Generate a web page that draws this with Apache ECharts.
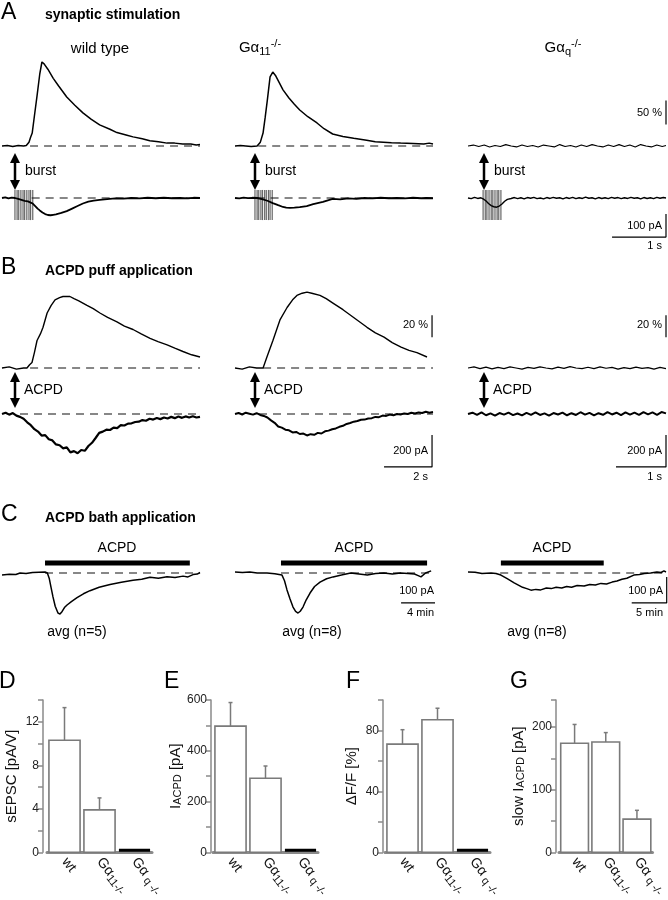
<!DOCTYPE html>
<html><head><meta charset="utf-8">
<script src="https://cdn.jsdelivr.net/npm/echarts@6/dist/echarts.min.js"></script>
<style>html,body{margin:0;padding:0;background:#fff}#c{width:668px;height:900px}</style>
</head><body><div id="c"></div>
<script>
// ================= DATA =================
// Panel A: synaptic stimulation (time s; Ca signal % dF/F; current pA)
const caA_wt = [[0,0],[0.1,1],[0.2,-1],[0.3,1],[0.4,0],[0.45,1],[0.5,8],[0.53,18],[0.56,27],[0.6,62],[0.65,105],[0.7,150],[0.74,175],[0.78,171],[0.85,160],[0.95,141],[1.05,125],[1.2,102],[1.35,85],[1.5,69],[1.65,56],[1.81,44],[2.0,35],[2.13,28],[2.3,23],[2.43,19],[2.6,15],[2.74,11],[2.9,9],[3.06,6],[3.2,6],[3.35,4],[3.5,4],[3.6,2],[3.67,3]];
const caA_g11 = [[0,0],[0.1,1],[0.2,0],[0.3,-1],[0.41,0],[0.47,8],[0.52,27],[0.56,60],[0.6,96],[0.65,144],[0.7,154],[0.75,147],[0.82,132],[0.89,117],[1.0,100],[1.1,87],[1.2,75],[1.35,61],[1.52,48],[1.65,36],[1.81,25],[2.0,20],[2.2,16],[2.44,12],[2.6,9],[2.75,8],[2.9,7],[3.07,6],[3.3,5],[3.5,4],[3.6,6],[3.67,4]];
const caA_gq = [[0,0],[0.1,2],[0.2,-1],[0.3,2],[0.4,-2],[0.5,1],[0.6,-1],[0.7,3],[0.8,0],[0.9,-2],[1.0,2],[1.1,-1],[1.2,1],[1.3,-2],[1.4,2],[1.5,0],[1.6,-2],[1.7,3],[1.8,-1],[1.9,1],[2.0,-2],[2.1,2],[2.2,-1],[2.3,3],[2.4,0],[2.5,-2],[2.6,2],[2.7,-1],[2.8,3],[2.9,-1],[3.0,2],[3.1,-2],[3.2,3],[3.3,0],[3.4,-2],[3.5,2],[3.6,-1],[3.67,1]];
const curA_wt = [[0,0],[0.06,3],[0.12,-2],[0.18,2],[0.24,0],[0.3,-4],[0.36,-8],[0.42,-12],[0.48,-15],[0.53,-20],[0.57,-24],[0.62,-36],[0.66,-46],[0.7,-54],[0.75,-63],[0.8,-70],[0.85,-74],[0.9,-75],[0.95,-73],[1.0,-71],[1.1,-65],[1.2,-57],[1.3,-46],[1.4,-35],[1.5,-24],[1.6,-16],[1.7,-11],[1.81,-8],[1.95,-5],[2.1,-2],[2.25,-3],[2.4,0],[2.55,-2],[2.7,1],[2.85,-1],[3.0,1],[3.15,-1],[3.3,0],[3.45,-2],[3.55,1],[3.67,0]];
const curA_g11 = [[0,0],[0.08,-2],[0.16,2],[0.24,-1],[0.32,1],[0.41,0],[0.5,-5],[0.6,-12],[0.7,-22],[0.8,-31],[0.89,-39],[0.95,-42],[1.02,-43],[1.1,-42],[1.2,-40],[1.33,-35],[1.45,-27],[1.55,-21],[1.63,-17],[1.72,-10],[1.81,-4],[1.95,-6],[2.1,-2],[2.25,-4],[2.4,0],[2.55,-2],[2.7,1],[2.85,-1],[3.0,0],[3.15,-2],[3.3,1],[3.45,-1],[3.55,0],[3.67,-1]];
const curA_gq = [[0,0],[0.06,-3],[0.12,3],[0.18,-2],[0.24,1],[0.28,-4],[0.33,-12],[0.38,-24],[0.43,-33],[0.48,-38],[0.53,-40],[0.58,-35],[0.63,-26],[0.68,-14],[0.73,-6],[0.8,-2],[0.86,2],[0.92,-3],[0.98,1],[1.04,-4],[1.1,2],[1.16,-1],[1.22,3],[1.28,-3],[1.34,0],[1.4,-4],[1.46,2],[1.52,-2],[1.58,3],[1.64,-1],[1.7,1],[1.76,-4],[1.82,2],[1.88,-2],[1.94,3],[2.0,-3],[2.06,1],[2.12,-2],[2.18,4],[2.24,-1],[2.3,1],[2.36,-4],[2.42,2],[2.48,-2],[2.54,1],[2.6,-3],[2.66,3],[2.72,-1],[2.78,2],[2.84,-3],[2.9,1],[2.96,-2],[3.02,3],[3.08,-1],[3.14,1],[3.2,-4],[3.26,2],[3.32,-2],[3.38,1],[3.44,-3],[3.5,3],[3.56,-1],[3.62,2],[3.67,0]];
const stimA_wt = [0.24,0.28,0.31,0.35,0.39,0.42,0.46,0.5,0.53,0.57];
const stimA_g11 = [0.37,0.41,0.44,0.48,0.51,0.55,0.58,0.62,0.65,0.69];
const stimA_gq = [0.28,0.32,0.35,0.39,0.43,0.46,0.5,0.54,0.57,0.61];

// Panel B: ACPD puff application (time s; % ; pA)
const caB_wt = [[0,0],[0.3,1],[0.6,-1],[0.9,0],[1.04,0],[1.15,3],[1.25,5],[1.35,14],[1.46,25],[1.6,31],[1.71,37],[1.88,50],[2.05,57],[2.21,62],[2.4,64],[2.54,65],[2.7,65],[2.83,65],[3.0,63],[3.2,61],[3.54,57],[3.8,54],[4.08,50],[4.4,46],[4.79,42],[5.1,38],[5.46,35],[5.8,31],[6.17,27],[6.5,24],[6.88,21],[7.2,18],[7.54,15],[7.9,12],[8.25,10]];
const caB_g11 = [[0,0],[0.3,-1],[0.6,1],[0.9,0],[1.17,0],[1.33,10],[1.58,25],[1.88,44],[2.17,55],[2.4,62],[2.58,66],[2.8,68],[3.0,69],[3.2,68],[3.54,66],[3.8,63],[4.08,59],[4.5,53],[5.0,45],[5.5,37],[5.85,32],[6.21,28],[6.55,23],[6.92,19],[7.25,16],[7.58,14],[8.0,10]];
const caB_gq = [[0,0],[0.12,1],[0.24,-0.5],[0.36,0.8],[0.48,-0.8],[0.6,0.5],[0.72,-0.5],[0.84,1],[0.96,0],[1.08,-1],[1.2,0.6],[1.32,-0.4],[1.44,1],[1.56,0],[1.68,-0.8],[1.8,0.8],[1.92,-0.3],[2.04,1.2],[2.16,0],[2.28,-0.6],[2.4,0.7],[2.52,-0.5],[2.64,1],[2.76,-0.2],[2.88,0.6],[3.0,-1],[3.12,0.4],[3.24,-0.6],[3.36,0.8],[3.48,-0.4],[3.6,0.3],[3.72,-1],[3.84,0.5],[3.96,-0.5]];
const curB_wt = [[0,0],[0.15,8],[0.3,-4],[0.45,6],[0.6,-10],[0.75,-18],[0.9,-30],[1.05,-52],[1.2,-70],[1.35,-95],[1.5,-110],[1.65,-135],[1.8,-132],[1.95,-158],[2.1,-165],[2.25,-190],[2.4,-195],[2.55,-215],[2.7,-208],[2.85,-240],[3.0,-232],[3.15,-245],[3.3,-225],[3.45,-230],[3.6,-200],[3.75,-180],[3.9,-150],[4.05,-118],[4.2,-110],[4.35,-98],[4.5,-100],[4.65,-85],[4.8,-88],[4.95,-70],[5.1,-72],[5.25,-60],[5.4,-58],[5.55,-50],[5.7,-48],[5.85,-38],[6.0,-42],[6.15,-30],[6.3,-35],[6.45,-25],[6.6,-32],[6.75,-22],[6.9,-28],[7.05,-18],[7.2,-26],[7.35,-16],[7.5,-24],[7.65,-15],[7.8,-22],[7.95,-14],[8.1,-22],[8.25,-18]];
const curB_g11 = [[0,0],[0.15,6],[0.3,-3],[0.45,8],[0.6,2],[0.75,-4],[0.9,5],[1.05,-6],[1.2,-12],[1.35,-22],[1.5,-40],[1.65,-55],[1.8,-78],[1.95,-85],[2.1,-98],[2.25,-102],[2.4,-115],[2.55,-112],[2.7,-125],[2.85,-122],[3.0,-134],[3.15,-126],[3.3,-130],[3.45,-118],[3.6,-122],[3.75,-108],[3.9,-104],[4.05,-95],[4.2,-90],[4.35,-80],[4.5,-74],[4.65,-62],[4.8,-56],[4.95,-48],[5.1,-44],[5.25,-36],[5.4,-35],[5.55,-28],[5.7,-26],[5.85,-18],[6.0,-20],[6.15,-10],[6.3,-12],[6.45,-4],[6.6,-8],[6.75,0],[6.9,-3],[7.05,4],[7.2,0],[7.35,8],[7.5,3],[7.65,10],[7.8,6],[7.95,14],[8.1,8],[8.25,12]];
const curB_gq = [[0,0],[0.09,8],[0.18,-6],[0.27,10],[0.36,-8],[0.45,4],[0.54,-10],[0.63,6],[0.72,-4],[0.81,9],[0.9,-7],[0.99,3],[1.08,-9],[1.17,7],[1.26,-5],[1.35,10],[1.44,-6],[1.53,4],[1.62,-10],[1.71,6],[1.8,-3],[1.89,9],[1.98,-8],[2.07,5],[2.16,-6],[2.25,11],[2.34,-4],[2.43,7],[2.52,-9],[2.61,5],[2.7,-5],[2.79,12],[2.88,-3],[2.97,8],[3.06,-7],[3.15,10],[3.24,-4],[3.33,9],[3.42,-6],[3.51,12],[3.6,-2],[3.69,10],[3.78,-5],[3.87,12],[3.96,4]];

// Panel C: ACPD bath application (time min; current pA)
const curC_wt = [[0,-8],[0.8,-5],[1.5,-6],[1.95,0],[2.6,-2],[3.3,2],[4.0,3],[4.65,4],[4.9,0],[5.1,-20],[5.3,-55],[5.51,-92],[5.75,-128],[6.05,-154],[6.27,-158],[6.5,-148],[6.75,-133],[7.03,-123],[7.5,-110],[8.11,-95],[8.8,-80],[9.51,-68],[10.5,-55],[11.68,-44],[12.9,-36],[14.16,-28],[15.1,-24],[16.0,-16],[16.9,-20],[17.84,-14],[18.7,-17],[19.57,-12],[20.1,-15],[20.65,-6],[21.1,-4],[21.4,2]];
const curC_g11 = [[0,4],[0.8,2],[1.6,4],[2.4,0],[3.46,0],[4.3,-3],[5.08,-8],[5.35,-30],[5.62,-65],[5.95,-100],[6.27,-131],[6.55,-148],[6.81,-154],[7.05,-147],[7.35,-131],[7.7,-103],[8.11,-77],[8.6,-52],[9.19,-35],[9.9,-22],[10.6,-15],[11.5,-8],[12.5,0],[13.4,-4],[14.3,-8],[15.2,-2],[16.1,0],[17.0,-4],[17.9,0],[18.7,-2],[19.4,-4],[19.8,-10],[20.1,-15],[20.6,0],[21.2,8]];
const curC_gq = [[0,4],[1.0,3],[2.0,-2],[3.3,0],[4.0,-2],[4.7,-8],[5.6,-22],[6.6,-38],[7.8,-55],[8.4,-60],[9.0,-66],[9.7,-63],[10.4,-65],[11.2,-58],[11.9,-60],[12.6,-55],[13.4,-58],[14.1,-52],[14.8,-55],[15.6,-48],[16.6,-50],[17.4,-44],[18.2,-46],[19.0,-40],[19.8,-42],[20.6,-35],[21.3,-31],[22.0,-24],[22.7,-20],[23.7,-8],[24.5,-6],[25.2,-2],[26.1,0],[27.0,4],[27.6,2],[28.0,8],[28.3,4]];
const acpdC_wt = [4.65,20.3], acpdC_g11 = [4.97,20.76], acpdC_gq = [4.7,19.4];

// Panels D-G: bar charts (mean, SEM)
const genotypes = ['wt','Gα11-/-','Gαq-/-'];
const sEPSC = [10.3,3.9,0],     sEPSC_sem = [3.0,1.1,0];
const iACPD = [497,292,0],      iACPD_sem = [93,48,0];
const dFF = [71,87,0],          dFF_sem = [9.5,7.6,0];
const slowI = [174,176,53],     slowI_sem = [30,15,14];

// Scale bar sizes
const scaleA = {pct:50, pA:100, s:1};
const scaleB = {pct:20, pA:200, s_left:2, s_right:1};
const scaleC = {pA:100, min_mid:4, min_right:5};

// ================= BUILD =================
const FONT = '"Liberation Sans", Arial, Helvetica, sans-serif';
const grids=[], xAxes=[], yAxes=[], series=[], graphics=[];
const colLeft=[2,235,468], colW=198;

function traceGrid(left, width, baseY, ppu, ymin, ymax, xmax){
  const i=grids.length;
  grids.push({left:left, top: baseY - ymax*ppu, width:width, height:(ymax-ymin)*ppu});
  xAxes.push({gridIndex:i, type:'value', min:0, max:xmax, show:false});
  yAxes.push({gridIndex:i, type:'value', min:ymin, max:ymax, show:false});
  return i;
}
function line(gi, data, width, extra){
  series.push(Object.assign({type:'line', xAxisIndex:gi, yAxisIndex:gi, data:data, symbol:'none', silent:true, clip:false,
    lineStyle:{color:'#000', width:width}, z:3}, extra||{}));
}
function dash(gi, t0, t1){
  line(gi, [[t0,0],[t1,0]], 1, {lineStyle:{color:'#111', width:1.2, type:[8,6]}, z:2});
}
function stim(gi, times, top, bot){
  series.push({type:'custom', xAxisIndex:gi, yAxisIndex:gi, data:times.map(t=>[t]), silent:true, clip:false, z:1,
    renderItem:function(p, api){
      const a=api.coord([api.value(0), top]), b=api.coord([api.value(0), bot]);
      return {type:'line', shape:{x1:a[0],y1:a[1],x2:b[0],y2:b[1]}, style:{stroke:'#666', lineWidth:1.2}};
    }});
}
function T(x, y, text, o){
  o=o||{};
  const st={text:text, fill:'#000', fontSize:o.size||14, fontFamily:FONT, fontWeight:o.bold?'bold':'normal',
    align:o.align||'left', textAlign:o.align||'left', verticalAlign:'middle', textVerticalAlign:'middle'};
  if(o.rich) st.rich=o.rich;
  graphics.push({type:'text', x:x, y:y, silent:true, style:st});
}
function arrow(x, y1, y2){
  graphics.push({type:'line', shape:{x1:x,y1:y1+7,x2:x,y2:y2-7}, style:{stroke:'#000', lineWidth:2.5}});
  graphics.push({type:'polygon', shape:{points:[[x,y1],[x-5,y1+10],[x+5,y1+10]]}, style:{fill:'#000'}});
  graphics.push({type:'polygon', shape:{points:[[x,y2],[x-5,y2-10],[x+5,y2-10]]}, style:{fill:'#000'}});
}
const sub = {fontSize:11, fontFamily:FONT, verticalAlign:'bottom', lineHeight:11};
const sup = {fontSize:11, fontFamily:FONT, verticalAlign:'top', lineHeight:11};
const base14 = {fontSize:15, fontFamily:FONT, lineHeight:19};

// ---- Row A ----
const A_CA = {base:146, ppu:0.48, min:-20, max:180};
const A_CUR = {base:198, ppu:0.23, min:-120, max:60};
const aCa = colLeft.map(l=>traceGrid(l, colW, A_CA.base, A_CA.ppu, A_CA.min, A_CA.max, 3.67));
const aCur = colLeft.map(l=>traceGrid(l, colW, A_CUR.base, A_CUR.ppu, A_CUR.min, A_CUR.max, 3.67));
stim(aCur[0], stimA_wt, 35, -96); stim(aCur[1], stimA_g11, 35, -96); stim(aCur[2], stimA_gq, 35, -96);
line(aCa[0], caA_wt, 1.5); line(aCa[1], caA_g11, 1.5); line(aCa[2], caA_gq, 1.2);
line(aCur[0], curA_wt, 1.8); line(aCur[1], curA_g11, 1.8); line(aCur[2], curA_gq, 1.4);
dash(aCa[0], 0.52, 3.67); dash(aCa[1], 0.43, 3.67);
dash(aCur[0], 0.55, 3.67); dash(aCur[1], 0.4, 3.67);
// scale bars A
line(aCa[2], [[3.67,45],[3.67,45+scaleA.pct]], 1.2);
line(aCur[2], [[3.67-scaleA.s,-70-scaleA.pA],[3.67,-70-scaleA.pA],[3.67,-70]], 1.2);

// ---- Row B ----
const B_CA = {base:368, ppu:1.1, min:-10, max:70};
const B_CUR = {base:414, ppu:0.16, min:-300, max:100};
const bX = [8.25, 8.25, 3.96];
const bCa = colLeft.map((l,i)=>traceGrid(l, colW, B_CA.base, B_CA.ppu, B_CA.min, B_CA.max, bX[i]));
const bCur = colLeft.map((l,i)=>traceGrid(l, colW, B_CUR.base, B_CUR.ppu, B_CUR.min, B_CUR.max, bX[i]));
line(bCa[0], caB_wt, 1.4); line(bCa[1], caB_g11, 1.4); line(bCa[2], caB_gq, 1.2);
line(bCur[0], curB_wt, 2.2); line(bCur[1], curB_g11, 2.0); line(bCur[2], curB_gq, 2.0);
dash(bCa[0], 1.17, 8.25); dash(bCa[1], 1.17, 8.25);
dash(bCur[0], 0.75, 8.25); dash(bCur[1], 1.0, 8.25);
line(bCa[1], [[8.21,28],[8.21,28+scaleB.pct]], 1.2);
line(bCa[2], [[3.96,28],[3.96,28+scaleB.pct]], 1.2);
line(bCur[1], [[8.21-scaleB.s_left,-131-scaleB.pA],[8.21,-131-scaleB.pA],[8.21,-131]], 1.2);
line(bCur[2], [[3.96-scaleB.s_right,-131-scaleB.pA],[3.96,-131-scaleB.pA],[3.96,-131]], 1.2);

// ---- Row C ----
const C_CUR = {base:573, ppu:0.26, min:-200, max:50};
const cX = [21.4, 21.4, 28.3];
const cG = colLeft.map((l,i)=>traceGrid(l, colW, C_CUR.base, C_CUR.ppu, C_CUR.min, C_CUR.max, cX[i]));
line(cG[0], curC_wt, 1.5); line(cG[1], curC_g11, 1.5); line(cG[2], curC_gq, 1.5);
dash(cG[0], 4.65, 21.4); dash(cG[1], 4.97, 21.4); dash(cG[2], 4.6, 28.3);
[[cG[0],acpdC_wt],[cG[1],acpdC_g11],[cG[2],acpdC_gq]].forEach(([g,r])=>line(g, [[r[0],38],[r[1],38]], 5, {lineStyle:{color:'#000',width:5,cap:'butt'}}));
line(cG[1], [[21.95-scaleC.min_mid,-15-scaleC.pA],[21.95,-15-scaleC.pA],[21.95,-15]], 1.2);
line(cG[2], [[28.4-scaleC.min_right,-15-scaleC.pA],[28.4,-15-scaleC.pA],[28.4,-15]], 1.2);

// ---- Bar charts ----
function barChart(left, max, interval, labelEvery, labelMax, name, nameGap, offset, vals, errs, nameRich){
  const i=grids.length;
  grids.push({left:left, top:700, width:105, height:157});
  xAxes.push({gridIndex:i, type:'category', data:genotypes,
    axisLine:{show:true, lineStyle:{color:'#8a8a8a', width:3}}, axisTick:{show:false},
    axisLabel:{rotate:-52, margin:7, color:'#111', fontSize:14, fontFamily:FONT, interval:0,
      formatter:function(v){ if(v==='wt') return 'wt'; if(v==='Gα11-/-') return 'Gα{s|11}{s|-/-}'; return 'Gα{s| q}{s| -/-}'; },
      rich:{s:{fontSize:11, fontFamily:FONT, padding:[7,0,0,0], color:'#111'}}}});
  yAxes.push({gridIndex:i, type:'value', min:0, max:max, interval:interval, offset:offset,
    name:name, nameLocation:'middle', nameGap:nameGap, nameRotate:90,
    nameTextStyle:{fontSize:15, fontFamily:FONT, color:'#111', rich:nameRich||{}},
    axisLine:{show:true, lineStyle:{color:'#8a8a8a', width:1.5}},
    axisTick:{show:true, length:5, lineStyle:{color:'#8a8a8a', width:1.5}},
    splitLine:{show:false},
    axisLabel:{fontSize:12, fontFamily:FONT, color:'#222', margin:4,
      formatter:function(v){ return (Math.abs(v/labelEvery - Math.round(v/labelEvery))<1e-6 && v<=labelMax) ? String(v) : ''; }}});
  series.push({type:'custom', xAxisIndex:i, yAxisIndex:i, data:vals.map((v,k)=>[k,v,errs[k]]), silent:true, z:4,
    renderItem:function(p, api){
      const k=api.value(0), v=api.value(1), e=api.value(2);
      const b=api.coord([k,0]), t=api.coord([k,v]), et=api.coord([k,v+e]);
      const bw=api.size([1,0])[0]*0.89, x0=b[0]-bw/2;
      const ch=[];
      if(v>0){
        if(e>0){
          ch.push({type:'line', shape:{x1:b[0],y1:t[1],x2:b[0],y2:et[1]}, style:{stroke:'#7a7a7a', lineWidth:1.5}});
          ch.push({type:'line', shape:{x1:b[0]-2,y1:et[1],x2:b[0]+2,y2:et[1]}, style:{stroke:'#7a7a7a', lineWidth:1.5}});
        }
        ch.push({type:'rect', shape:{x:x0, y:t[1], width:bw, height:b[1]-t[1]}, style:{fill:'#fff', stroke:'#7a7a7a', lineWidth:1.6}});
      } else {
        ch.push({type:'line', shape:{x1:x0,y1:b[1]-2,x2:x0+bw,y2:b[1]-2}, style:{stroke:'#000', lineWidth:3}});
      }
      return {type:'group', children:ch};
    }});
}
const nameSub = {s:{fontSize:11, fontFamily:FONT, color:'#111', padding:[0,0,0,0], verticalAlign:'bottom', lineHeight:11}};
barChart(47, 14, 2, 4, 14, 'sEPSC [pA/V]', 24, 4, sEPSC, sEPSC_sem);
barChart(213, 600, 100, 200, 600, 'I{s|ACPD} [pA]', 28, 2, iACPD, iACPD_sem, nameSub);
barChart(385, 100, 20, 40, 80, 'ΔF/F [%]', 24, 2, dFF, dFF_sem);
barChart(559, 243, 50, 100, 200, 'slow I{s|ACPD} [pA]', 30, 3, slowI, slowI_sem, nameSub);

// ---- Text ----
T(1, 13, 'A', {size:23}); T(45, 15, 'synaptic stimulation', {bold:true, size:14});
T(100, 49, 'wild type', {align:'center', size:15});
T(260, 48, '{b|Gα}{s|11}{p|-/-}', {align:'center', rich:{b:base14, s:sub, p:sup}});
T(563, 48, '{b|Gα}{s|q}{p|-/-}', {align:'center', rich:{b:base14, s:sub, p:sup}});
T(25, 171, 'burst'); T(265, 171, 'burst'); T(494, 171, 'burst');
T(662, 113, '50 %', {size:11, align:'right'});
T(662, 226, '100 pA', {size:11, align:'right'});
T(662, 246, '1 s', {size:11, align:'right'});
arrow(15, 153, 190); arrow(255, 153, 190); arrow(484, 153, 190);

T(1, 268, 'B', {size:23}); T(45, 271, 'ACPD puff application', {bold:true, size:14});
T(24, 390, 'ACPD'); T(264, 390, 'ACPD'); T(493, 390, 'ACPD');
arrow(15, 372, 408); arrow(255, 372, 408); arrow(484, 372, 408);
T(428, 325, '20 %', {size:11, align:'right'}); T(662, 325, '20 %', {size:11, align:'right'});
T(428, 451, '200 pA', {size:11, align:'right'}); T(662, 451, '200 pA', {size:11, align:'right'});
T(428, 477, '2 s', {size:11, align:'right'}); T(662, 477, '1 s', {size:11, align:'right'});

T(1, 515, 'C', {size:23}); T(45, 518, 'ACPD bath application', {bold:true, size:14});
T(117, 548, 'ACPD', {align:'center'}); T(354, 548, 'ACPD', {align:'center'}); T(552, 548, 'ACPD', {align:'center'});
T(434, 591, '100 pA', {size:11, align:'right'}); T(434, 613, '4 min', {size:11, align:'right'});
T(663, 591, '100 pA', {size:11, align:'right'}); T(663, 613, '5 min', {size:11, align:'right'});
T(77, 632, 'avg (n=5)', {align:'center'}); T(312, 632, 'avg (n=8)', {align:'center'}); T(537, 632, 'avg (n=8)', {align:'center'});

T(-1, 682, 'D', {size:23}); T(164, 682, 'E', {size:23}); T(346, 682, 'F', {size:23}); T(510, 682, 'G', {size:23});

const chart = echarts.init(document.getElementById('c'), null, {renderer:'canvas'});
chart.setOption({backgroundColor:'#fff', animation:false, grid:grids, xAxis:xAxes, yAxis:yAxes, series:series, graphic:{elements:graphics}});
</script></body></html>
